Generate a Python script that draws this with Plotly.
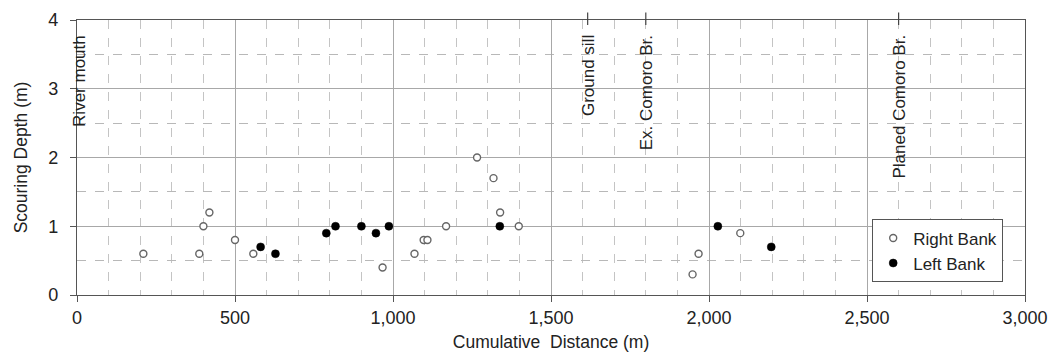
import plotly.graph_objects as go

# Scouring depth surveyed along the river (cumulative distance from the mouth)
right_dist = [210, 387, 400, 419, 500, 558, 967, 1068, 1097, 1109, 1168, 1266, 1318, 1339, 1398, 1948, 1967, 2099]
right_depth = [0.6, 0.6, 1.0, 1.2, 0.8, 0.6, 0.4, 0.6, 0.8, 0.8, 1.0, 2.0, 1.7, 1.2, 1.0, 0.3, 0.6, 0.9]

left_dist = [581, 628, 789, 818, 900, 946, 987, 1338, 2028, 2197]
left_depth = [0.7, 0.6, 0.9, 1.0, 1.0, 0.9, 1.0, 1.0, 1.0, 0.7]

# Landmarks along the reach
landmark_dist = [0, 1616, 1800, 2600]
landmark_names = ["River mouth", "Ground sill", "Ex. Comoro Br.", "Planed Comoro Br."]

FONT = "Liberation Sans, Arial, sans-serif"
TEXT = "#222222"

fig = go.Figure()
fig.add_trace(go.Scatter(
    x=right_dist, y=right_depth, mode="markers", name="Right Bank",
    marker=dict(symbol="circle", size=7, color="white",
                line=dict(color="#666666", width=1.4)),
))
fig.add_trace(go.Scatter(
    x=left_dist, y=left_depth, mode="markers", name="Left Bank",
    marker=dict(symbol="circle", size=8, color="black",
                line=dict(color="black", width=0.5)),
))

for xd, name in zip(landmark_dist, landmark_names):
    if xd > 0:
        fig.add_shape(type="line", xref="x", yref="paper",
                      x0=xd, x1=xd, y0=1.027, y1=0.982,
                      line=dict(color="#444", width=1.2), layer="above")
    fig.add_annotation(x=xd, y=0.953, xref="x", yref="paper",
                       text=name, textangle=-90, showarrow=False,
                       xanchor="center", yanchor="top",
                       xshift=3 if xd == 0 else 1,
                       font=dict(family=FONT, size=17, color=TEXT))

axis_common = dict(
    showline=True, linecolor="#555", linewidth=1.2, mirror=True,
    ticks="outside", ticklen=6, tickcolor="#555",
    showgrid=True, gridcolor="#a8a8a8", gridwidth=1,
    zeroline=False, automargin=False,
    tickfont=dict(family=FONT, size=18, color=TEXT),
)

fig.update_xaxes(
    range=[0, 3000], dtick=500, tickformat=",d",
    minor=dict(dtick=100, showgrid=True, gridcolor="#c4c4c4",
               griddash="dash", gridwidth=1),
    ticklabelstandoff=0,
    title=dict(text="Cumulative  Distance (m)",
               font=dict(family=FONT, size=17.5, color=TEXT), standoff=9),
    **axis_common,
)
fig.update_yaxes(
    range=[0, 4], dtick=1,
    minor=dict(dtick=0.5, showgrid=True, gridcolor="#b8b8b8",
               griddash="dash", gridwidth=1),
    ticklabelstandoff=8,
    title=dict(text="Scouring Depth (m)",
               font=dict(family=FONT, size=17.5, color=TEXT), standoff=16),
    **axis_common,
)

fig.update_layout(
    width=1050, height=354,
    margin=dict(l=77, r=25, t=20, b=59),
    paper_bgcolor="white", plot_bgcolor="white",
    separators=".,",
    showlegend=True,
    legend=dict(
        x=0.977, y=0.275, xanchor="right", yanchor="top",
        bgcolor="white", bordercolor="#555", borderwidth=1,
        font=dict(family=FONT, size=17, color=TEXT),
        itemwidth=30, tracegroupgap=0,
    ),
)

fig.write_html("out.html")
